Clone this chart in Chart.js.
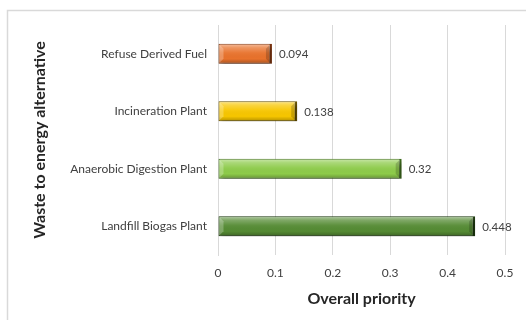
<!DOCTYPE html>
<html>
<head>
<meta charset="utf-8">
<script src="https://cdn.jsdelivr.net/npm/chart.js@4/dist/chart.umd.min.js"></script>
<style>
  html, body { margin: 0; padding: 0; background: #fff; }
  #wrap { width: 527px; height: 320px; position: relative; }
</style>
</head>
<body>
<div id="wrap"><canvas id="c" width="527" height="320"></canvas></div>
<script>
// Waste-to-energy alternatives and their overall priority weights
const categories = ["Refuse Derived Fuel", "Incineration Plant", "Anaerobic Digestion Plant", "Landfill Biogas Plant"];
const priorities = [0.094, 0.138, 0.32, 0.448];
const xTickValues = [0, 0.1, 0.2, 0.3, 0.4, 0.5];

// Bar fills and their darker outlines
const barFill = ["#E8722C", "#F7C600", "#8DCB4A", "#558B34"];
const barEdge = ["#7A3410", "#6B5500", "#3D6A1C", "#1E3A0F"];

const FONT = "Lato, 'Open Sans', sans-serif";
const TEXT = "#404040";

// Outer frame around the chart
const framePlugin = {
  id: "frame",
  beforeDraw(chart) {
    const ctx = chart.ctx;
    ctx.save();
    ctx.strokeStyle = "#d9d9d9";
    ctx.lineWidth = 1.5;
    ctx.beginPath();
    ctx.moveTo(7.5, 330);
    ctx.lineTo(7.5, 10.5);
    ctx.lineTo(526, 10.5);
    ctx.stroke();
    ctx.restore();
  }
};

// Soft drop shadow under the bars, then a bevel highlight on top of them
const bevelPlugin = {
  id: "bevel",
  beforeDatasetsDraw(chart) {
    const ctx = chart.ctx;
    ctx.save();
    ctx.shadowColor = "rgba(0,0,0,0.35)";
    ctx.shadowBlur = 4;
    ctx.shadowOffsetX = 2;
    ctx.shadowOffsetY = 3;
  },
  afterDatasetsDraw(chart) {
    const ctx = chart.ctx;
    ctx.restore();
    const meta = chart.getDatasetMeta(0);
    meta.data.forEach((bar) => {
      const top = bar.y - bar.height / 2;
      const h = bar.height;
      const left = bar.base;
      const right = bar.x;
      ctx.save();
      const g = ctx.createLinearGradient(0, top, 0, top + h);
      g.addColorStop(0, "rgba(255,255,255,0.55)");
      g.addColorStop(0.2, "rgba(255,255,255,0.25)");
      g.addColorStop(0.45, "rgba(255,255,255,0.05)");
      g.addColorStop(0.75, "rgba(0,0,0,0.0)");
      g.addColorStop(1, "rgba(0,0,0,0.28)");
      ctx.fillStyle = g;
      ctx.fillRect(left + 1, top + 1, right - left - 3, h - 2);
      // bevel corners at the left end
      ctx.fillStyle = "rgba(255,255,255,0.25)";
      ctx.beginPath();
      ctx.moveTo(left + 1, top + 1);
      ctx.lineTo(left + 5, top + 5);
      ctx.lineTo(left + 5, top + h - 5);
      ctx.lineTo(left + 1, top + h - 1);
      ctx.closePath();
      ctx.fill();
      // darker shading at the right end
      ctx.fillStyle = "rgba(0,0,0,0.18)";
      ctx.beginPath();
      ctx.moveTo(right - 2, top + 1);
      ctx.lineTo(right - 6, top + 5);
      ctx.lineTo(right - 6, top + h - 5);
      ctx.lineTo(right - 2, top + h - 1);
      ctx.closePath();
      ctx.fill();
      ctx.restore();
    });
  }
};

// Value labels to the right of each bar
const valueLabelPlugin = {
  id: "valueLabels",
  afterDatasetsDraw(chart) {
    const ctx = chart.ctx;
    const meta = chart.getDatasetMeta(0);
    ctx.save();
    ctx.font = "11.5px " + FONT;
    ctx.fillStyle = TEXT;
    ctx.textAlign = "left";
    ctx.textBaseline = "middle";
    meta.data.forEach((bar, i) => {
      ctx.fillText(String(priorities[i]), bar.x + 7, bar.y + 1);
    });
    ctx.restore();
  }
};

new Chart(document.getElementById("c"), {
  type: "bar",
  data: {
    labels: categories,
    datasets: [{
      data: priorities,
      backgroundColor: barFill,
      borderColor: barEdge,
      borderWidth: { top: 1, left: 1, bottom: 1, right: 2.5 },
      borderSkipped: false,
      barPercentage: 0.35,
      categoryPercentage: 1.0
    }]
  },
  options: {
    indexAxis: "y",
    responsive: false,
    animation: false,
    devicePixelRatio: 1,
    layout: { padding: { left: 30, right: 22, top: 25, bottom: 12 } },
    plugins: {
      legend: { display: false },
      tooltip: { enabled: false }
    },
    scales: {
      x: {
        min: 0,
        max: 0.5,
        afterBuildTicks(scale) {
          scale.ticks = xTickValues.map(v => ({ value: v }));
        },
        ticks: {
          color: TEXT,
          font: { family: FONT, size: 12 },
          padding: 11,
          callback: (v) => String(v)
        },
        grid: { color: "#d9d9d9", lineWidth: 1, drawTicks: false },
        border: { display: false },
        title: {
          display: true,
          text: "Overall priority",
          color: "#262626",
          font: { family: FONT, size: 16, weight: "bold" },
          padding: { top: 4, bottom: 0 }
        },
        afterFit(scale) { scale.height = 53; }
      },
      y: {
        ticks: {
          color: TEXT,
          font: { family: FONT, size: 12 },
          padding: 11
        },
        grid: { display: false, drawTicks: false },
        border: { display: true, color: "#d9d9d9", width: 1 },
        title: {
          display: true,
          text: "Waste to energy alternative",
          color: "#262626",
          font: { family: FONT, size: 16, weight: "bold" },
          padding: { top: 0, bottom: 0 }
        },
        afterFit(scale) { scale.width = 188; }
      }
    }
  },
  plugins: [framePlugin, bevelPlugin, valueLabelPlugin]
});
</script>
</body>
</html>
